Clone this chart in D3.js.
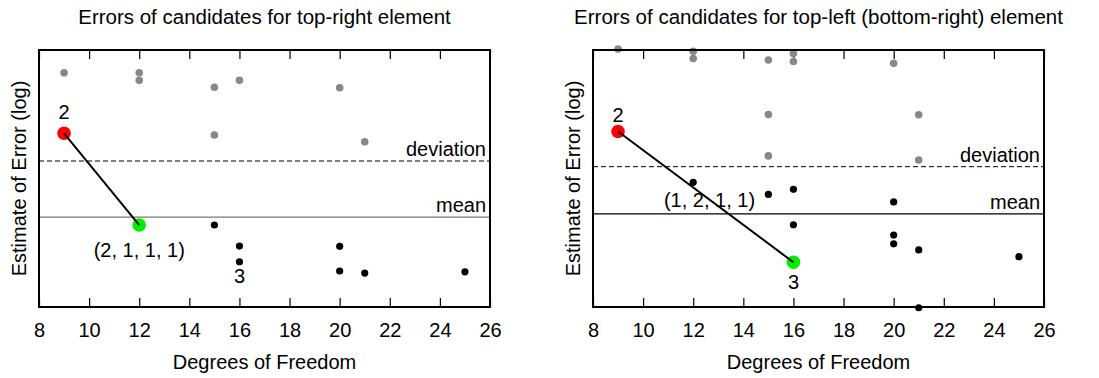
<!DOCTYPE html>
<html>
<head>
<meta charset="utf-8">
<script src="https://cdn.jsdelivr.net/npm/d3@7"></script>
<style>
  body { margin: 0; background: #fff; }
  svg text { font-family: "Liberation Sans", Arial, sans-serif; fill: #000; }
</style>
</head>
<body>
<div class="graph"></div>
<script>
// degrees of freedom ticks
let xTicks = [8, 10, 12, 14, 16, 18, 20, 22, 24, 26];

// left chart: top-right element (log error, arbitrary units 0..10)
let leftGrayX = [9, 12, 12, 15, 15, 16, 20, 21];
let leftGrayY = [9.11, 9.11, 8.82, 8.55, 6.69, 8.82, 8.53, 6.43];
let leftBlackX = [15, 16, 16, 20, 20, 21, 25];
let leftBlackY = [3.19, 2.37, 1.76, 2.36, 1.40, 1.32, 1.37];
let leftRed = [9, 6.76];
let leftGreen = [12, 3.19];
let leftDeviation = 5.68;
let leftMean = 3.50;

// right chart: top-left (bottom-right) element
let rightGrayX = [9, 12, 12, 15, 15, 15, 16, 16, 20, 21, 21];
let rightGrayY = [10.04, 9.95, 9.67, 9.61, 7.49, 5.88, 9.86, 9.55, 9.48, 7.48, 5.72];
let rightBlackX = [12, 15, 16, 16, 20, 20, 20, 21, 21, 25];
let rightBlackY = [4.85, 4.38, 4.58, 3.20, 4.09, 2.80, 2.46, 2.22, -0.03, 1.96];
let rightRed = [9, 6.83];
let rightGreen = [16, 1.74];
let rightDeviation = 5.46;
let rightMean = 3.62;

let w = 1099;
let h = 378;
let fs = "20px";

let svgvar = d3
  .select(".graph")
  .append("svg")
  .attr("width", w)
  .attr("height", h);

function drawPanel(opt) {
  let left = opt.left;
  let right = opt.right;
  let top = 50;
  let bottom = 307;
  let xScale = d3.scaleLinear().domain([8, 26]).range([left, right]);
  let yScale = d3.scaleLinear().domain([0, 10]).range([bottom, top]);
  let g = svgvar.append("g");
  let cx = (left + right) / 2;

  g.append("text")
    .attr("x", cx)
    .attr("y", 17)
    .attr("dy", "0.35em")
    .attr("text-anchor", "middle")
    .style("font-size", "20.5px")
    .text(opt.title);

  // inner ticks top and bottom
  let xAxisB = d3.axisBottom(xScale).tickValues(xTicks).tickSizeInner(-9).tickSizeOuter(0).tickPadding(16);
  let xAxisT = d3.axisTop(xScale).tickValues(xTicks).tickSizeInner(-9).tickSizeOuter(0).tickFormat("");
  g.append("g")
    .attr("transform", "translate(0," + bottom + ")")
    .call(xAxisB)
    .call((s) => s.select(".domain").remove())
    .call((s) => s.selectAll(".tick line").attr("stroke", "#000").attr("stroke-width", 1.2))
    .call((s) => s.selectAll(".tick text").style("font-size", fs).attr("font-family", null));
  g.append("g")
    .attr("transform", "translate(0," + top + ")")
    .call(xAxisT)
    .call((s) => s.select(".domain").remove())
    .call((s) => s.selectAll(".tick line").attr("stroke", "#000").attr("stroke-width", 1.2));

  g.append("text")
    .attr("x", cx)
    .attr("y", 362)
    .attr("dy", "0.35em")
    .attr("text-anchor", "middle")
    .style("font-size", fs)
    .text("Degrees of Freedom");
  g.append("text")
    .attr("transform", "translate(" + (left - 20) + "," + (top + bottom) / 2 + ") rotate(-90)")
    .attr("dy", "0.35em")
    .attr("text-anchor", "middle")
    .style("font-size", fs)
    .text("Estimate of Error (log)");

  // reference lines
  g.append("line")
    .attr("x1", left).attr("x2", right)
    .attr("y1", yScale(opt.deviation)).attr("y2", yScale(opt.deviation))
    .attr("stroke", "#000").attr("stroke-width", 1).attr("stroke-dasharray", "5,3");
  g.append("line")
    .attr("x1", left).attr("x2", right)
    .attr("y1", yScale(opt.mean)).attr("y2", yScale(opt.mean))
    .attr("stroke", opt.meanColor).attr("stroke-width", 1.3);
  g.append("text")
    .attr("x", right - 4).attr("y", yScale(opt.deviation) - 5)
    .attr("text-anchor", "end").style("font-size", fs).text("deviation");
  g.append("text")
    .attr("x", right - 4).attr("y", yScale(opt.mean) - 5)
    .attr("text-anchor", "end").style("font-size", fs).text("mean");

  g.selectAll(".gray")
    .data(opt.grayX)
    .enter()
    .append("circle")
    .attr("cx", (d) => xScale(d))
    .attr("cy", (d, i) => yScale(opt.grayY[i]))
    .attr("r", 3.8)
    .style("fill", "#888888");
  g.selectAll(".black")
    .data(opt.blackX)
    .enter()
    .append("circle")
    .attr("cx", (d) => xScale(d))
    .attr("cy", (d, i) => yScale(opt.blackY[i]))
    .attr("r", 3.6)
    .style("fill", "#000");

  g.append("circle")
    .attr("cx", xScale(opt.red[0])).attr("cy", yScale(opt.red[1]))
    .attr("r", 6.8).style("fill", "#ff0000");
  g.append("circle")
    .attr("cx", xScale(opt.green[0])).attr("cy", yScale(opt.green[1]))
    .attr("r", 6.8).style("fill", "#00ee00");
  g.append("line")
    .attr("x1", xScale(opt.red[0])).attr("y1", yScale(opt.red[1]))
    .attr("x2", xScale(opt.green[0])).attr("y2", yScale(opt.green[1]))
    .attr("stroke", "#000").attr("stroke-width", 2);

  opt.labels.forEach(function (lb) {
    g.append("text")
      .attr("x", xScale(lb[0]))
      .attr("y", yScale(lb[1]))
      .attr("dy", "0.35em")
      .attr("text-anchor", "middle")
      .style("font-size", fs)
      .text(lb[2]);
  });

  // frame
  g.append("rect")
    .attr("x", left).attr("y", top)
    .attr("width", right - left).attr("height", bottom - top)
    .attr("fill", "none").attr("stroke", "#000").attr("stroke-width", 2);
}

drawPanel({
  left: 39, right: 490,
  title: "Errors of candidates for top-right element",
  grayX: leftGrayX, grayY: leftGrayY,
  blackX: leftBlackX, blackY: leftBlackY,
  red: leftRed, green: leftGreen,
  deviation: leftDeviation, mean: leftMean, meanColor: "#777",
  labels: [[9, 7.58, "2"], [12, 2.2, "(2, 1, 1, 1)"], [16, 1.2, "3"]]
});

drawPanel({
  left: 593, right: 1044,
  title: "Errors of candidates for top-left (bottom-right) element",
  grayX: rightGrayX, grayY: rightGrayY,
  blackX: rightBlackX, blackY: rightBlackY,
  red: rightRed, green: rightGreen,
  deviation: rightDeviation, mean: rightMean, meanColor: "#000",
  labels: [[9, 7.48, "2"], [12.65, 4.17, "(1, 2, 1, 1)"], [16, 0.97, "3"]]
});
</script>
</body>
</html>
